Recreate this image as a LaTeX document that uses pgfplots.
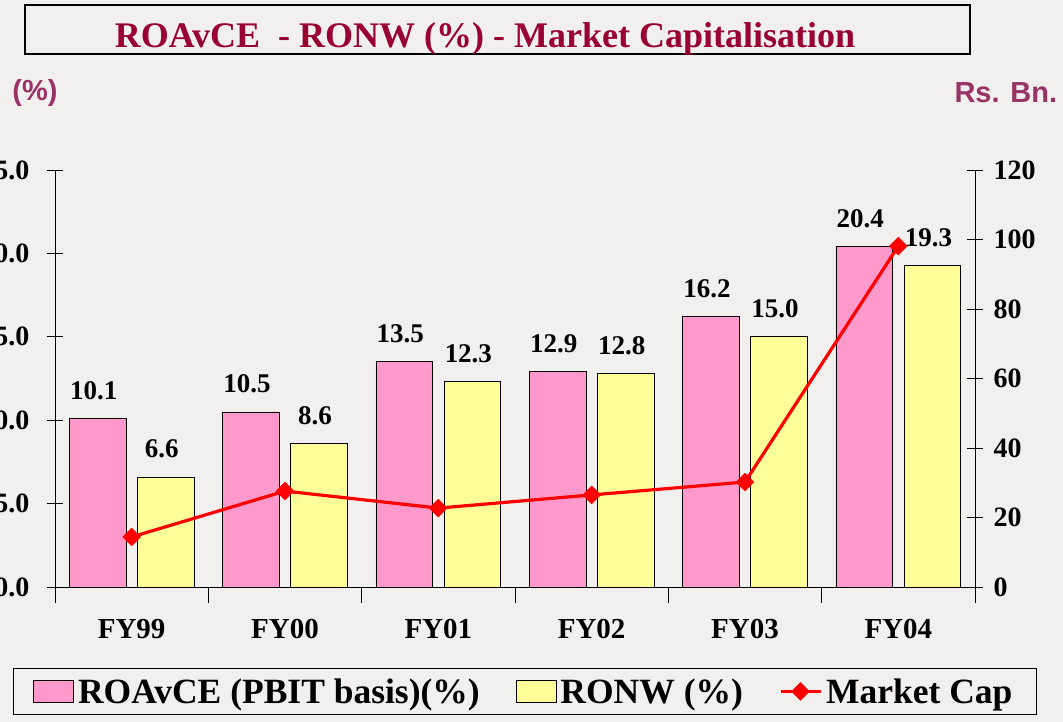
\documentclass[border=0pt]{standalone}
\usepackage{fontspec}
\setmainfont{Liberation Serif}
\newfontfamily\arialfont{Liberation Sans}
\usepackage{pgfplots}
\pgfplotsset{compat=1.18}
\definecolor{bgc}{RGB}{242,240,238}
\definecolor{pinkc}{RGB}{255,153,204}
\definecolor{yelc}{RGB}{255,255,153}
\definecolor{titlec}{RGB}{153,0,51}
\definecolor{unitc}{RGB}{153,51,102}
\pgfplotsset{
  boxlegend/.style={legend image code/.code={\draw[##1] (0pt,-11pt) rectangle (40pt,11pt);}},
  linelegend/.style={legend image code/.code={\draw[mark repeat=2,mark phase=2,##1] plot coordinates {(0pt,0pt)(20pt,0pt)(40pt,0pt)};}},
}
\begin{document}
\begin{tikzpicture}[x=1pt,y=1pt]
\fill[bgc] (0,0) rectangle (1063,722);
\path[use as bounding box] (0,0) rectangle (1063,722);
\draw[line width=1.8pt] (25,668) rectangle (970,717);
\node[font=\fontsize{36}{40}\selectfont\bfseries, text=titlec, anchor=base] at (485,674) {ROAvCE\ \ - RONW (\%) - Market Capitalisation};
\node[font=\arialfont\bfseries\fontsize{29}{32}\selectfont, text=unitc] at (35,629) {(\%)};
\node[font=\arialfont\bfseries\fontsize{29}{32}\selectfont, text=unitc, anchor=west] at (951,629) {Rs. Bn.};

\begin{axis}[at={(55pt,135pt)}, anchor=south west, scale only axis,
  width=920pt, height=417pt,
  xmin=-0.5, xmax=5.5, ymin=0, ymax=25,
  axis x line*=bottom, axis y line*=left,
  axis line style={black, line width=0.8pt},
  tick style={black, line width=0.8pt},
  tick align=center, major tick length=16pt,
  xtick={-0.5,0.5,1.5,2.5,3.5,4.5,5.5},
  x tick label as interval,
  xticklabels={FY99,FY00,FY01,FY02,FY03,FY04},
  xticklabel style={font=\fontsize{29}{32}\selectfont\bfseries, yshift=-13pt},
  ytick={0,5,10,15,20,25},
  /pgf/number format/assume math mode=true,
  yticklabel={\pgfmathprintnumber[fixed,fixed zerofill,precision=1]{\tick}},
  yticklabel style={font=\fontsize{28}{30}\selectfont\bfseries, xshift=-14pt},
  ybar, bar width=0.37,
  nodes near coords={\pgfmathprintnumber[fixed,fixed zerofill,precision=1,assume math mode=true]{\pgfplotspointmeta}},
  nodes near coords style={font=\fontsize{27}{30}\selectfont\bfseries, black, yshift=15pt, xshift=-4pt},
  clip=false,
]
\addplot[fill=pinkc, draw=black, line width=0.7pt, bar shift=-0.222] coordinates {(0,10.1)(1,10.5)(2,13.5)(3,12.9)(4,16.2)(5,20.4)};
\addplot[fill=yelc, draw=black, line width=0.7pt, bar shift=0.222] coordinates {(0,6.6)(1,8.6)(2,12.3)(3,12.8)(4,15.0)(5,19.3)};
\end{axis}

\begin{axis}[at={(55pt,135pt)}, anchor=south west, scale only axis,
  width=920pt, height=417pt,
  xmin=-0.5, xmax=5.5, ymin=0, ymax=120,
  axis x line=none, axis y line*=right,
  axis line style={black, line width=0.8pt},
  tick style={black, line width=0.8pt},
  tick align=center, major tick length=16pt,
  ytick={0,20,40,60,80,100,120},
  /pgf/number format/assume math mode=true,
  yticklabel style={font=\fontsize{28}{30}\selectfont\bfseries, xshift=7pt},
  clip=false,
  legend columns=3,
  legend cell align=left,
  legend style={at={(axis description cs:0,0)}, anchor=north west,
    xshift=-42pt, yshift=-81pt, draw=black, line width=0.8pt, fill=bgc,
    font=\fontsize{35.5}{40}\selectfont\bfseries,
    inner xsep=20pt, inner ysep=6pt,
    nodes={inner xsep=4pt, inner ysep=4pt},
    /tikz/every even column/.append style={column sep=32pt}},
]
\addlegendimage{fill=pinkc, draw=black, line width=0.7pt, boxlegend}
\addlegendentry{ROAvCE (PBIT basis)(\%)}
\addlegendimage{fill=yelc, draw=black, line width=0.7pt, boxlegend}
\addlegendentry{RONW (\%)}
\addplot[red, line width=3.2pt, mark=square*, mark size=6.3pt, mark options={solid, rotate=45, line width=0.5pt}, linelegend]
  coordinates {(0,14.4)(1,27.6)(2,22.7)(3,26.5)(4,30.2)(5,98.1)};
\addlegendentry{Market Cap}
\end{axis}
\end{tikzpicture}
\end{document}
